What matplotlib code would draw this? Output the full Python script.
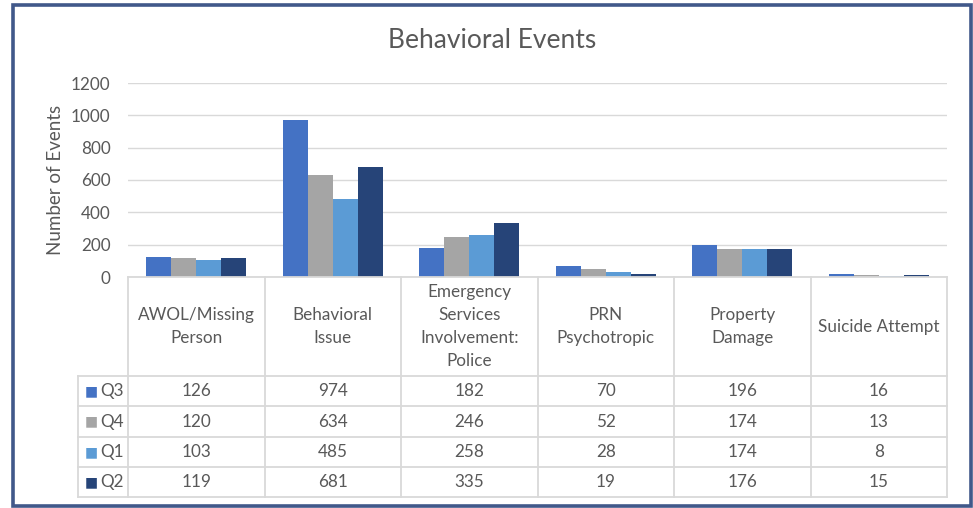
import matplotlib.pyplot as plt
from matplotlib.patches import Rectangle
import numpy as np

plt.rcParams['font.family'] = ['Lato', 'DejaVu Sans']

categories = ["AWOL/Missing\nPerson", "Behavioral\nIssue",
              "Emergency\nServices\nInvolvement:\nPolice",
              "PRN\nPsychotropic", "Property\nDamage", "Suicide Attempt"]
series = ["Q3", "Q4", "Q1", "Q2"]
q3 = [126, 974, 182, 70, 196, 16]
q4 = [120, 634, 246, 52, 174, 13]
q1 = [103, 485, 258, 28, 174, 8]
q2 = [119, 681, 335, 19, 176, 15]
values = [q3, q4, q1, q2]
colors = ['#4472C4', '#A5A5A5', '#5B9BD5', '#264478']

W, H = 973, 508
fig = plt.figure(figsize=(W / 100, H / 100), dpi=100)
text_col = '#595959'
grid_col = '#D9D9D9'

# outer frame
fig.patches.append(Rectangle((12.5 / W, 1 - 506 / H), (970.5 - 12.5) / W, (506 - 4.5) / H,
                             transform=fig.transFigure, fill=False,
                             edgecolor='#41588A', linewidth=2.6))

fig.text(492 / W, 1 - 40 / H, "Behavioral Events", ha='center', va='center',
         fontsize=19, color=text_col)

# bar plot area
x0, x1 = 128, 947
y_top, y_bot = 83, 277
ax = fig.add_axes([x0 / W, 1 - y_bot / H, (x1 - x0) / W, (y_bot - y_top) / H])
x = np.arange(len(categories))
bw = 0.183
for i, (vals, c) in enumerate(zip(values, colors)):
    ax.bar(x + (i - 1.5) * bw, vals, bw, color=c)
ax.set_xlim(-0.5, 5.5)
ax.set_ylim(0, 1200)
ax.set_yticks(range(0, 1201, 200))
ax.yaxis.grid(True, color=grid_col, linewidth=1)
ax.set_axisbelow(True)
for s in ax.spines.values():
    s.set_visible(False)
ax.set_xticks([])
ax.tick_params(axis='y', length=0, labelsize=12.3, labelcolor=text_col, pad=12.5)
ax.set_ylabel("Number of Events", fontsize=13.5, color=text_col, labelpad=5)

# data table
t_bot = 497
tax = fig.add_axes([x0 / W, 1 - t_bot / H, (x1 - x0) / W, (t_bot - y_bot) / H])
tax.set_xlim(-0.5, 5.5)
tax.set_ylim(t_bot, y_bot)
tax.axis('off')
lc = '#D9D9D9'
lw = 1.3
left = -0.5 - 50 / 136.5
rows = [376, 406, 437, 467, 497]
tax.plot([-0.5, 5.5], [y_bot, y_bot], color=lc, lw=lw, clip_on=False)
for r in rows:
    tax.plot([left, 5.5], [r, r], color=lc, lw=lw, clip_on=False)
for b in np.arange(-0.5, 5.6, 1.0):
    tax.plot([b, b], [y_bot, t_bot], color=lc, lw=lw, clip_on=False)
tax.plot([left, left], [rows[0], t_bot], color=lc, lw=lw, clip_on=False)

for j, cat in enumerate(categories):
    tax.text(j, (y_bot + rows[0]) / 2, cat, ha='center', va='center',
             fontsize=12.3, color=text_col, linespacing=1.55)
for i, (name, vals, c) in enumerate(zip(series, values, colors)):
    yc = (rows[i] + rows[i + 1]) / 2
    tax.text(left + 0.05, yc, "\u25A0", ha='left', va='center', fontsize=10,
             color=c, family='DejaVu Sans', clip_on=False)
    tax.text(left + 0.16, yc, name, ha='left', va='center', fontsize=12.3,
             color=text_col, clip_on=False)
    for j, v in enumerate(vals):
        tax.text(j, yc, str(v), ha='center', va='center', fontsize=12.3,
                 color=text_col)

fig.savefig('out.png', dpi=100)
